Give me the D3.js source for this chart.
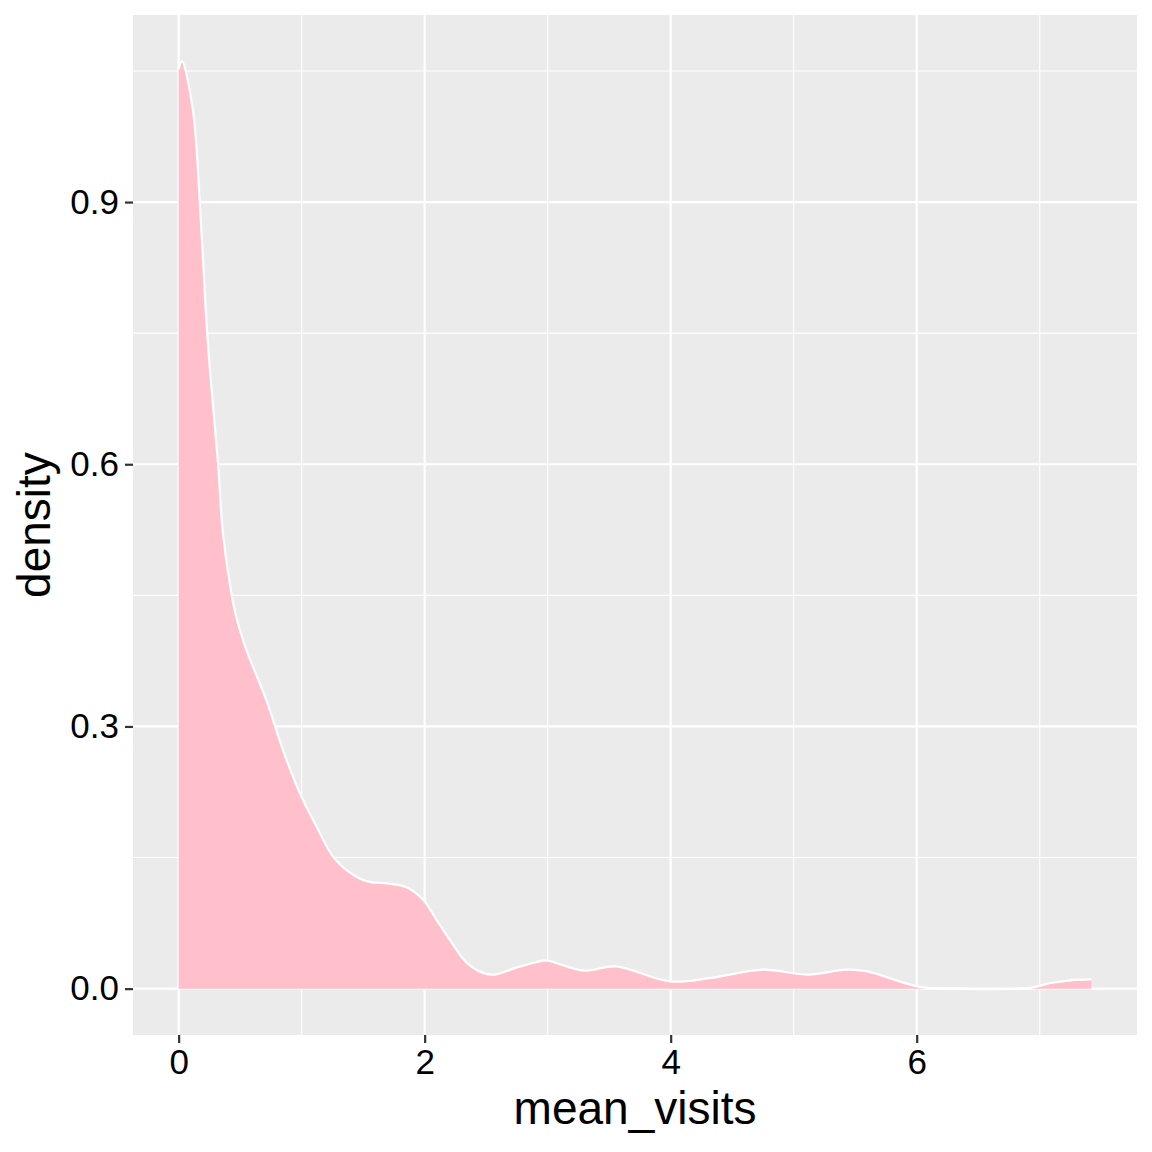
<!DOCTYPE html>
<html>
<head>
<meta charset="utf-8">
<script src="https://cdn.jsdelivr.net/npm/d3@7"></script>
<style>
  html, body { margin: 0; padding: 0; background: #fff; }
  svg { display: block; }
  text { font-family: "Liberation Sans", Arial, Helvetica, sans-serif; }
</style>
</head>
<body>
<svg id="chart" width="1152" height="1152"></svg>
<script>
// ---- data ----
const meanVisits = [0, 0.027, 0.116, 0.171, 0.220, 0.252, 0.320, 0.360, 0.428, 0.469, 0.550, 0.713, 0.848, 0.984, 1.119, 1.255, 1.390, 1.526, 1.715, 1.851, 1.986, 2.095, 2.203, 2.339, 2.474, 2.569, 2.745, 2.962, 3.0, 3.30, 3.553, 3.992, 4.317, 4.754, 5.116, 5.425, 5.59, 6.024, 6.31, 6.89, 6.98, 7.09, 7.25, 7.42];
const density    = [1.052, 1.061, 1.005, 0.902, 0.777, 0.712, 0.601, 0.521, 0.453, 0.425, 0.388, 0.330, 0.273, 0.224, 0.186, 0.151, 0.133, 0.123, 0.120, 0.116, 0.102, 0.079, 0.056, 0.030, 0.018, 0.016, 0.024, 0.032, 0.032, 0.0206, 0.0255, 0.0084, 0.012, 0.0217, 0.016, 0.0217, 0.020, 0.002, 0.0, 0.0004, 0.0025, 0.0065, 0.0095, 0.0105];
const xTicks = [0, 2, 4, 6];
const xTickLabels = ["0", "2", "4", "6"];
const xMinor = [1, 3, 5, 7];
const yTicks = [0, 0.3, 0.6, 0.9];
const yTickLabels = ["0.0", "0.3", "0.6", "0.9"];
const yMinor = [0.15, 0.45, 0.75, 1.05];
const xTitle = "mean_visits";
const yTitle = "density";

const points = meanVisits.map((v, i) => ({ x: v, y: density[i] }));

// ---- layout ----
const panel = { left: 133, right: 1137, top: 15, bottom: 1035 };
const svg = d3.select("#chart");

const xr = d3.extent(meanVisits);
const xpad = (xr[1] - xr[0]) * 0.05;
const yr = [0, d3.max(density)];
const ypad = (yr[1] - yr[0]) * 0.05;

const x = d3.scaleLinear().domain([xr[0] - xpad, xr[1] + xpad]).range([panel.left, panel.right]);
const y = d3.scaleLinear().domain([yr[0] - ypad, yr[1] + ypad]).range([panel.bottom, panel.top]);

// panel background
svg.append("rect")
  .attr("x", panel.left).attr("y", panel.top)
  .attr("width", panel.right - panel.left).attr("height", panel.bottom - panel.top)
  .attr("fill", "#EBEBEB");

const grid = svg.append("g");
// minor grid
grid.selectAll(".xmin").data(xMinor.filter(v => x(v) >= panel.left && x(v) <= panel.right)).enter().append("line")
  .attr("x1", d => x(d)).attr("x2", d => x(d)).attr("y1", panel.top).attr("y2", panel.bottom)
  .attr("stroke", "#fff").attr("stroke-width", 1.1);
grid.selectAll(".ymin").data(yMinor).enter().append("line")
  .attr("y1", d => y(d)).attr("y2", d => y(d)).attr("x1", panel.left).attr("x2", panel.right)
  .attr("stroke", "#fff").attr("stroke-width", 1.1);
// major grid
grid.selectAll(".xmaj").data(xTicks).enter().append("line")
  .attr("x1", d => x(d)).attr("x2", d => x(d)).attr("y1", panel.top).attr("y2", panel.bottom)
  .attr("stroke", "#fff").attr("stroke-width", 2.2);
grid.selectAll(".ymaj").data(yTicks).enter().append("line")
  .attr("y1", d => y(d)).attr("y2", d => y(d)).attr("x1", panel.left).attr("x2", panel.right)
  .attr("stroke", "#fff").attr("stroke-width", 2.2);

// density area
const curve = d3.curveCatmullRom.alpha(0.5);
const area = d3.area().x(d => x(d.x)).y0(y(0)).y1(d => y(Math.max(0, d.y))).curve(curve);
const line = d3.line().x(d => x(d.x)).y(d => y(d.y)).curve(curve);

svg.append("path").datum(points).attr("d", area).attr("fill", "#FFC0CB");
svg.append("path").datum(points).attr("d", line)
  .attr("fill", "none").attr("stroke", "#fff").attr("stroke-width", 2.2).attr("stroke-linejoin", "round");

// axes
const xAxis = d3.axisBottom(x).tickValues(xTicks).tickFormat((d, i) => xTickLabels[i]).tickSize(8).tickPadding(6);
const gx = svg.append("g").attr("transform", `translate(0,${panel.bottom})`).call(xAxis);
gx.select(".domain").remove();
gx.selectAll(".tick line").attr("stroke", "#333").attr("stroke-width", 2.2);
gx.selectAll(".tick text").attr("fill", "#000").style("font-size", "35px")
  .style("font-family", '"Liberation Sans", Arial, sans-serif');

const yAxis = d3.axisLeft(y).tickValues(yTicks).tickFormat((d, i) => yTickLabels[i]).tickSize(8).tickPadding(6);
const gy = svg.append("g").attr("transform", `translate(${panel.left},0)`).call(yAxis);
gy.select(".domain").remove();
gy.selectAll(".tick line").attr("stroke", "#333").attr("stroke-width", 2.2);
gy.selectAll(".tick text").attr("fill", "#000").style("font-size", "35px")
  .style("font-family", '"Liberation Sans", Arial, sans-serif');

// titles
svg.append("text")
  .attr("x", (panel.left + panel.right) / 2).attr("y", 1124)
  .attr("text-anchor", "middle").attr("fill", "#000")
  .style("font-size", "46px").text(xTitle);

svg.append("text")
  .attr("transform", `translate(50,${(panel.top + panel.bottom) / 2}) rotate(-90)`)
  .attr("text-anchor", "middle").attr("fill", "#000")
  .style("font-size", "46px").text(yTitle);
</script>
</body>
</html>
